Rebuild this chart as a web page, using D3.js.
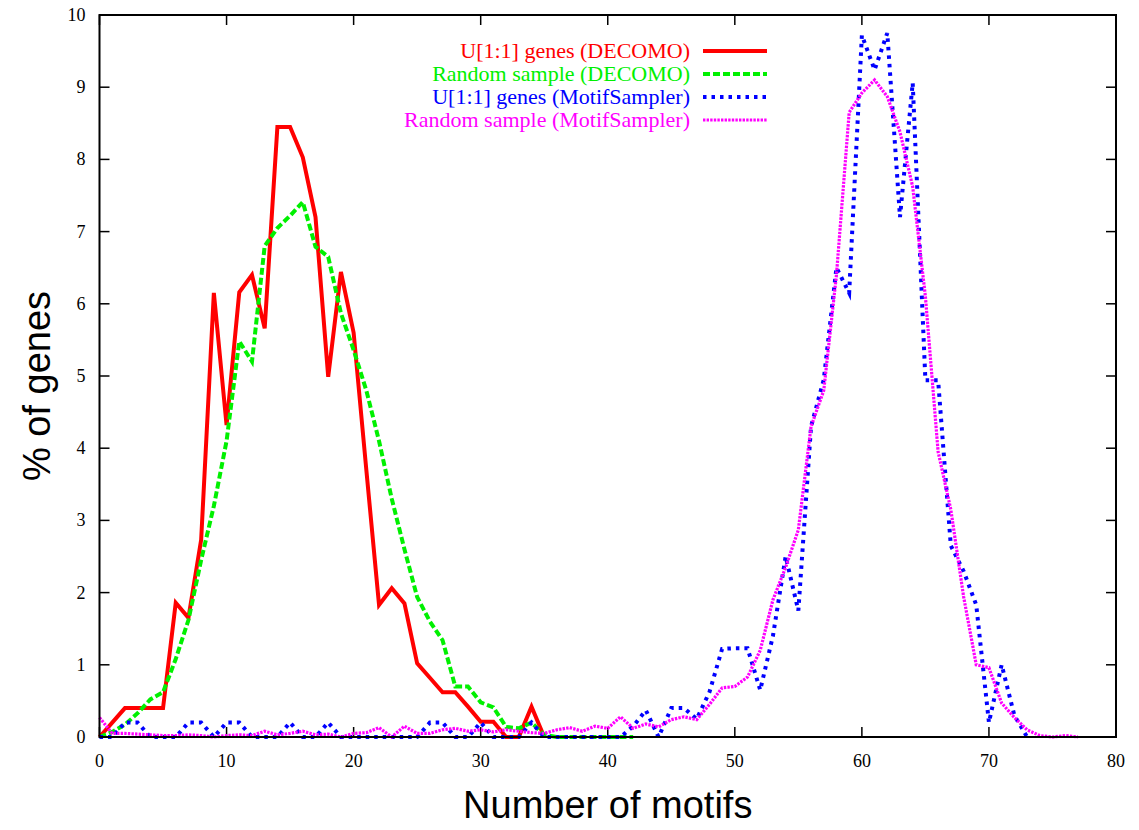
<!DOCTYPE html>
<html>
<head>
<meta charset="utf-8">
<script src="https://cdn.jsdelivr.net/npm/d3@7"></script>
<style>
  body { margin: 0; background: #fff; }
  .tick-label { font-family: "Liberation Serif", "DejaVu Serif", serif; font-size: 18px; fill: #000; }
  .legend-label { font-family: "Liberation Serif", "DejaVu Serif", serif; font-size: 22px; }
  .axis-title { font-family: "Liberation Sans", Arial, sans-serif; font-size: 38px; fill: #000; }
</style>
</head>
<body>
<div id="chart"></div>
<script>
// motif counts (x) and % of genes (y) for each series
const redX = [0,1,2,3,4,5,6,7,8,9,10,11,12,13,14,15,16,17,18,19,20,21,22,23,24,25,26,27,28,29,30,31,32,33,34,35];
const redY = [0,0.2,0.4,0.4,0.4,0.4,1.86,1.65,2.73,6.15,4.32,6.16,6.4,5.66,8.45,8.45,8.03,7.2,4.99,6.44,5.6,3.7,1.83,2.06,1.85,1.02,0.82,0.62,0.62,0.42,0.21,0.21,0,0,0.42,0];

const greenX = [0,1,2,3,4,5,6,7,8,9,10,11,12,13,14,15,16,17,18,19,20,21,22,23,24,25,26,27,28,29,30,31,32,33,34,35,36,37,38,39,40,41,42];
const greenY = [0,0.07,0.17,0.33,0.52,0.62,1.08,1.62,2.45,3.2,4.1,5.48,5.2,6.8,7.05,7.22,7.41,6.79,6.65,5.87,5.36,4.8,4.1,3.3,2.6,1.94,1.6,1.34,0.7,0.7,0.48,0.41,0.14,0.12,0.2,0.03,0,0,0,0,0,0,0];

const blueX = [0,1,2,3,4,5,6,7,8,9,10,11,12,13,14,15,16,17,18,19,20,21,22,23,24,25,26,27,28,29,30,31,32,33,34,35,36,37,38,39,40,41,42,43,44,45,46,47,48,49,50,51,52,53,54,55,56,57,58,59,60,61,62,63,64,65,66,67,68,69,70,71,72,73];
const blueY = [0,0,0.2,0.2,0,0,0,0.2,0.2,0,0.2,0.2,0,0,0,0.2,0,0,0.2,0,0,0,0,0,0,0,0.2,0.2,0,0,0.2,0,0,0,0.2,0,0,0,0,0,0,0,0.15,0.37,0,0.4,0.4,0.25,0.62,1.22,1.23,1.23,0.65,1.4,2.5,1.75,4.3,4.95,6.5,6.15,9.72,9.24,9.75,7.2,9.06,4.94,4.94,2.65,2.3,1.83,0.2,1.0,0.3,0];

const magentaX = [0,1,2,3,4,5,6,7,8,9,10,11,12,13,14,15,16,17,18,19,20,21,22,23,24,25,26,27,28,29,30,31,32,33,34,35,36,37,38,39,40,41,42,43,44,45,46,47,48,49,50,51,52,53,54,55,56,57,58,59,60,61,62,63,64,65,66,67,68,69,70,71,72,73,74,75,76,77];
const magentaY = [0.27,0.05,0.05,0.04,0.03,0.02,0.02,0.03,0.02,0,0.02,0.03,0.02,0.08,0.03,0.05,0.08,0.03,0.04,0,0.05,0.06,0.13,0,0.15,0.05,0.05,0.1,0.12,0.08,0.1,0.07,0.1,0.08,0.06,0.05,0.1,0.13,0.08,0.15,0.12,0.28,0.12,0.18,0.14,0.24,0.28,0.24,0.45,0.68,0.7,0.83,1.2,1.9,2.35,2.87,4.3,4.8,6.4,8.65,8.92,9.1,8.87,8.38,7.62,6.1,3.95,3.15,1.95,1.0,0.96,0.47,0.27,0.1,0.02,0,0.02,0];

const seriesNames = ['U[1:1] genes (DECOMO)', 'Random sample (DECOMO)', 'U[1:1] genes (MotifSampler)', 'Random sample (MotifSampler)'];
const seriesColors = ['#ff0000', '#00f000', '#0000ff', '#ff00ff'];
const seriesDash = [null, '7,3', '3.5,5', '2.4,1.2'];

const xTicks = [0,10,20,30,40,50,60,70,80];
const yTicks = [0,1,2,3,4,5,6,7,8,9,10];

const width = 1139;
const height = 830;
const margin = {top: 15, right: 23, bottom: 93, left: 99.5};

const svg = d3.select('#chart')
  .append('svg')
    .attr('width', width)
    .attr('height', height);

const x = d3.scaleLinear().domain([0, 80]).range([margin.left, width - margin.right]);
const y = d3.scaleLinear().domain([0, 10]).range([height - margin.bottom, margin.top]);

const series = [
  {x: redX, y: redY},
  {x: greenX, y: greenY},
  {x: blueX, y: blueY},
  {x: magentaX, y: magentaY}
].map((s, i) => ({
  name: seriesNames[i],
  color: seriesColors[i],
  dash: seriesDash[i],
  points: s.x.map((v, j) => [v, s.y[j]])
}));

// ticks (inward, on all four sides, gnuplot style)
const tickLen = 10;
const ticks = svg.append('g').attr('stroke', '#000').attr('stroke-width', 1.5);
xTicks.forEach(t => {
  ticks.append('line').attr('x1', x(t)).attr('x2', x(t)).attr('y1', y(0)).attr('y2', y(0) - tickLen);
  ticks.append('line').attr('x1', x(t)).attr('x2', x(t)).attr('y1', y(10)).attr('y2', y(10) + tickLen);
});
yTicks.forEach(t => {
  ticks.append('line').attr('x1', x(0)).attr('x2', x(0) + tickLen).attr('y1', y(t)).attr('y2', y(t));
  ticks.append('line').attr('x1', x(80)).attr('x2', x(80) - tickLen).attr('y1', y(t)).attr('y2', y(t));
});

// tick labels
svg.append('g')
  .selectAll('text')
  .data(xTicks)
  .join('text')
    .attr('class', 'tick-label')
    .attr('x', d => x(d))
    .attr('y', y(0) + 30)
    .attr('text-anchor', 'middle')
    .text(d => d);
svg.append('g')
  .selectAll('text')
  .data(yTicks)
  .join('text')
    .attr('class', 'tick-label')
    .attr('x', x(0) - 14)
    .attr('y', d => y(d) + 6)
    .attr('text-anchor', 'end')
    .text(d => d);

// lines
const line = d3.line().x(d => x(d[0])).y(d => y(d[1]));
svg.append('g')
  .selectAll('path')
  .data(series)
  .join('path')
    .attr('fill', 'none')
    .attr('stroke', d => d.color)
    .attr('stroke-width', (d, i) => i === 3 ? 3.2 : 4)
    .attr('stroke-dasharray', d => d.dash)
    .attr('stroke-linejoin', 'miter')
    .attr('d', d => line(d.points));

// border
svg.append('rect')
  .attr('x', x(0))
  .attr('y', y(10))
  .attr('width', x(80) - x(0))
  .attr('height', y(0) - y(10))
  .attr('fill', 'none')
  .attr('stroke', '#000')
  .attr('stroke-width', 2);

// legend
const legend = svg.append('g')
  .selectAll('g')
  .data(series)
  .join('g')
    .attr('transform', (d, i) => `translate(0, ${51 + i * 23})`);
legend.append('text')
  .attr('class', 'legend-label')
  .attr('x', 690)
  .attr('y', 7)
  .attr('text-anchor', 'end')
  .attr('fill', d => d.color)
  .text(d => d.name);
legend.append('line')
  .attr('x1', 703)
  .attr('x2', 767)
  .attr('stroke', d => d.color)
  .attr('stroke-width', (d, i) => i === 3 ? 3.2 : 4)
  .attr('stroke-dasharray', d => d.dash);

// axis titles
svg.append('text')
  .attr('class', 'axis-title')
  .attr('x', (x(0) + x(80)) / 2)
  .attr('y', 818)
  .attr('text-anchor', 'middle')
  .text('Number of motifs');
svg.append('text')
  .attr('class', 'axis-title')
  .attr('transform', 'translate(50, 386) rotate(-90)')
  .attr('text-anchor', 'middle')
  .text('% of genes');
</script>
</body>
</html>
